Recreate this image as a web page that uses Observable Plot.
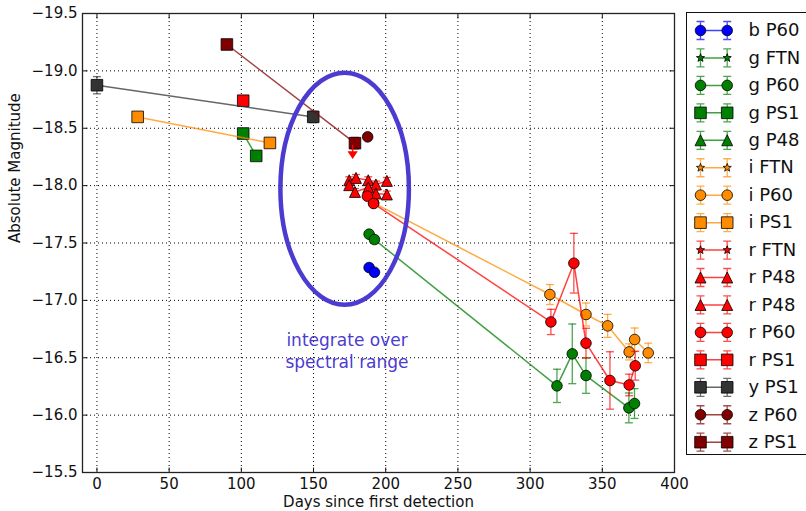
<!DOCTYPE html>
<html><head><meta charset="utf-8">
<script src="https://cdn.jsdelivr.net/npm/d3@7"></script>
<script src="https://cdn.jsdelivr.net/npm/@observablehq/plot@0.6"></script>
<style>
body{margin:0;background:#fff;}
#wrap{position:relative;width:806px;height:511px;overflow:hidden;font-family:"DejaVu Sans",sans-serif;background:#fff;}
#main{position:absolute;left:0;top:0;}
#leg{position:absolute;left:686px;top:0;}
#legbox{position:absolute;left:686px;top:12px;width:140px;height:443px;border:1.3px solid #111;box-sizing:border-box;background:#fff;}
</style></head><body><div id="wrap"><div id="main"></div><div id="legbox"></div><div id="leg"></div></div>
<script>
// ---- data: [day, absolute magnitude, error] ----
const bP60 = [[188.5,-17.286,0.02],[192.2,-17.245,0.02]];
const gFTN = [];
const gP60 = [[188.5,-17.577,0.02],[192.2,-17.53,0.02],[318.6,-16.255,0.145],[329.2,-16.534,0.26],[338.7,-16.345,0.155],[368.4,-16.063,0.13],[372.3,-16.101,0.13]];
const gPS1 = [[101.3,-18.454,0.02],[110.3,-18.259,0.02]];
const gP48 = [];
const iFTN = [];
const iP60 = [[191.6,-17.85,0.02],[313.7,-17.051,0.087],[338.7,-16.877,0.1],[353.7,-16.778,0.1],[368.6,-16.551,0.07],[372.4,-16.659,0.1],[381.8,-16.542,0.085]];
const iPS1 = [[28.2,-18.599,0.02],[119.8,-18.372,0.02]];
const rFTN = [];
const rP48a = [[174.7,-18.047,0.03],[179.4,-18.067,0.03],[187.9,-18.047,0.03],[193.2,-18.01,0.03],[200.8,-18.041,0.03]];
const rP48b = [[174.7,-18.004,0.03],[178.7,-17.945,0.03],[187.9,-17.984,0.03],[193.2,-17.931,0.03],[200.8,-17.923,0.03]];
const rP60 = [[187.3,-17.908,0.02],[191.6,-17.844,0.02],[314.4,-16.812,0.11],[330.3,-17.324,0.26],[338.7,-16.627,0.13],[355.3,-16.302,0.25],[368.6,-16.263,0.094],[372.8,-16.43,0.125]];
const rPS1 = [[101.3,-18.74,0.02]];
const yPS1 = [[0,-18.875,0.075],[149.8,-18.599,0.05]];
const zP60 = [[187.5,-18.425,0.02]];
const zPS1 = [[90.0,-19.23,0.03],[178.7,-18.37,0.05]];
const rUpperLimits = [[177.1,-18.28]];

const seriesLabels = ["b P60","g FTN","g P60","g PS1","g P48","i FTN","i P60","i PS1","r FTN","r P48","r P48","r P60","r PS1","y PS1","z P60","z PS1"];
const seriesData = [bP60,gFTN,gP60,gPS1,gP48,iFTN,iP60,iPS1,rFTN,rP48a,rP48b,rP60,rPS1,yPS1,zP60,zPS1];
const seriesColors = ["#0000ff","#008000","#008000","#008000","#008000","#ff8c00","#ff8c00","#ff8c00","#ff0000","#ff0000","#ff0000","#ff0000","#ff0000","#333333","#800000","#800000"];
const seriesSymbols = ["circle","star","circle","square","triangle","star","circle","square","star","triangle","triangle","circle","square","square","circle","square"];

const xTicks = [0,50,100,150,200,250,300,350,400];
const yTicks = [-19.5,-19.0,-18.5,-18.0,-17.5,-17.0,-16.5,-16.0,-15.5];
const xLabel = "Days since first detection";
const yLabel = "Absolute Magnitude";
const noteText = ["integrate over\nspectral range"];
const notePos = [173.2,-16.565];
const ellipseCenter = [171.9,-17.969];
const ellipseRadii = [44.5,1.011];

// ---- symbols ----
const R = s => Math.sqrt(s/Math.PI);
const sym = {
  circle:{draw(c,s){const r=R(s);c.moveTo(r,0);c.arc(0,0,r,0,2*Math.PI);c.closePath();}},
  square:{draw(c,s){const r=R(s);c.rect(-r,-r,2*r,2*r);}},
  triangle:{draw(c,s){const r=R(s);c.moveTo(0,-r);c.lineTo(r,r);c.lineTo(-r,r);c.closePath();}},
  star:{draw(c,s){const r=R(s),ri=r*0.42;for(let k=0;k<10;k++){const a=-Math.PI/2+k*Math.PI/5,rr=k%2?ri:r,px=rr*Math.cos(a),py=rr*Math.sin(a);k?c.lineTo(px,py):c.moveTo(px,py);}c.closePath();}}
};
const symSize = {circle:5.3,square:5.8,triangle:5.5,star:4.3};
const symCap = {draw(c,s){const r=R(s);c.moveTo(-r,0);c.lineTo(r,0);}};
const symDown = {draw(c,s){const r=R(s);c.moveTo(-r,-r*0.4);c.lineTo(r,-r*0.4);c.lineTo(0,r*1.1);c.closePath();c.moveTo(0,-r*0.4);c.lineTo(0,-r*2.2);}};
const symErr = {draw(c,s){const h=R(s);c.moveTo(0,-h);c.lineTo(0,h);c.moveTo(-4,-h);c.lineTo(4,-h);c.moveTo(-4,h);c.lineTo(4,h);}};
const tickL = {draw(c){c.moveTo(0,0);c.lineTo(5,0);}};
const tickR = {draw(c){c.moveTo(0,0);c.lineTo(-5,0);}};
const tickB = {draw(c){c.moveTo(0,0);c.lineTo(0,-5);}};
const tickT = {draw(c){c.moveTo(0,0);c.lineTo(0,5);}};

const X = d => d[0], Y = d => d[1];
function seriesMarks(data, color, symName){
  return [
    Plot.ruleX(data,{x:X,y1:d=>d[1]-d[2],y2:d=>d[1]+d[2],stroke:color,strokeOpacity:0.7,strokeWidth:1.3}),
    Plot.dot(data,{x:X,y:d=>d[1]-d[2],r:4,symbol:symCap,stroke:color,strokeOpacity:0.7,strokeWidth:1.3,fill:"none"}),
    Plot.dot(data,{x:X,y:d=>d[1]+d[2],r:4,symbol:symCap,stroke:color,strokeOpacity:0.7,strokeWidth:1.3,fill:"none"}),
    Plot.line(data,{x:X,y:Y,stroke:color,strokeOpacity:0.75,strokeWidth:1.5}),
    Plot.dot(data,{x:X,y:Y,r:symSize[symName],symbol:sym[symName],fill:color,stroke:"#000",strokeWidth:0.8})
  ];
}

const ellipseMark = (index, scales) => {
  const sx = scales.x, sy = scales.y;
  const el = document.createElementNS("http://www.w3.org/2000/svg","ellipse");
  const cx = sx(ellipseCenter[0]), cy = sy(ellipseCenter[1]);
  el.setAttribute("cx", cx); el.setAttribute("cy", cy);
  el.setAttribute("rx", Math.abs(sx(ellipseCenter[0]+ellipseRadii[0])-cx));
  el.setAttribute("ry", Math.abs(sy(ellipseCenter[1]+ellipseRadii[1])-cy));
  el.setAttribute("fill","none"); el.setAttribute("stroke","#4b3bd0"); el.setAttribute("stroke-width","4.5");
  return el;
};

const tickStyle = {stroke:"#111",strokeWidth:1,fill:"none",r:5};
const marks = [
  Plot.ruleX(xTicks,{stroke:"#000",strokeDasharray:"1,3",strokeWidth:1}),
  Plot.ruleY(yTicks,{stroke:"#000",strokeDasharray:"1,3",strokeWidth:1}),
  Plot.dot(yTicks,{x:()=>-10,y:d=>d,symbol:tickL,...tickStyle}),
  Plot.dot(yTicks,{x:()=>400,y:d=>d,symbol:tickR,...tickStyle}),
  Plot.dot(xTicks,{x:d=>d,y:()=>-15.5,symbol:tickB,...tickStyle}),
  Plot.dot(xTicks,{x:d=>d,y:()=>-19.5,symbol:tickT,...tickStyle}),
];
seriesData.forEach((d,i)=>marks.push(...seriesMarks(d, seriesColors[i], seriesSymbols[i])));
marks.push(Plot.dot(rUpperLimits,{x:X,y:Y,r:4,symbol:symDown,fill:"#ff0000",stroke:"#ff0000",strokeWidth:1.2}));
marks.push(ellipseMark);
marks.push(Plot.text(noteText,{x:()=>notePos[0],y:()=>notePos[1],text:d=>d,fill:"#4b3bd0",fontSize:17,lineHeight:1.27,textAnchor:"middle"}));
marks.push(Plot.frame({stroke:"#222",strokeWidth:1.3}));
marks.push(Plot.axisX(xTicks,{tickSize:0,tickPadding:6,fontSize:15,fill:"#111",tickFormat:d3.format("d"),label:null}));
marks.push(Plot.axisY(yTicks,{tickSize:0,tickPadding:5,fontSize:15,fill:"#111",tickFormat:d3.format(".1f"),label:null}));
marks.push(Plot.text([yLabel],{frameAnchor:"left",dx:-67,rotate:-90,text:d=>d,fontSize:15,fill:"#111"}));
marks.push(Plot.text([xLabel],{frameAnchor:"bottom",dy:29.5,text:d=>d,fontSize:15,fill:"#111",lineAnchor:"middle"}));

const main = Plot.plot({
  width:806, height:511,
  marginLeft:82, marginRight:132, marginTop:13, marginBottom:39,
  x:{domain:[-10,400]},
  y:{domain:[-15.5,-19.5]},
  style:{fontFamily:"DejaVu Sans",fontSize:"15px",background:"transparent",color:"#111"},
  marks
});
document.getElementById("main").appendChild(main);

// ---- legend ----
const legMarks = [];
seriesLabels.forEach((lab,i)=>{
  const row=[0,1].map(k=>({k,i}));
  const col=seriesColors[i], s=seriesSymbols[i];
  legMarks.push(Plot.dot(row,{x:d=>d.k,y:d=>d.i,r:9,symbol:symErr,stroke:col,strokeOpacity:0.7,strokeWidth:1.3,fill:"none"}));
  legMarks.push(Plot.line(row,{x:d=>d.k,y:d=>d.i,stroke:col,strokeOpacity:0.75,strokeWidth:1.5}));
  legMarks.push(Plot.dot(row,{x:d=>d.k,y:d=>d.i,r:symSize[s],symbol:sym[s],fill:col,stroke:"#000",strokeWidth:0.8}));
});
legMarks.push(Plot.text(seriesLabels,{x:()=>0,y:(d,i)=>i,text:d=>d,dx:48,textAnchor:"start",fontSize:18,fill:"#111"}));
const leg = Plot.plot({
  width:120, height:511, margin:0,
  x:{domain:[0,1],range:[14,40.7],axis:null},
  y:{domain:[0,15],range:[30,441.7],axis:null},
  style:{fontFamily:"DejaVu Sans",background:"transparent",overflow:"visible"},
  marks:legMarks
});
document.getElementById("leg").appendChild(leg);
</script></body></html>
